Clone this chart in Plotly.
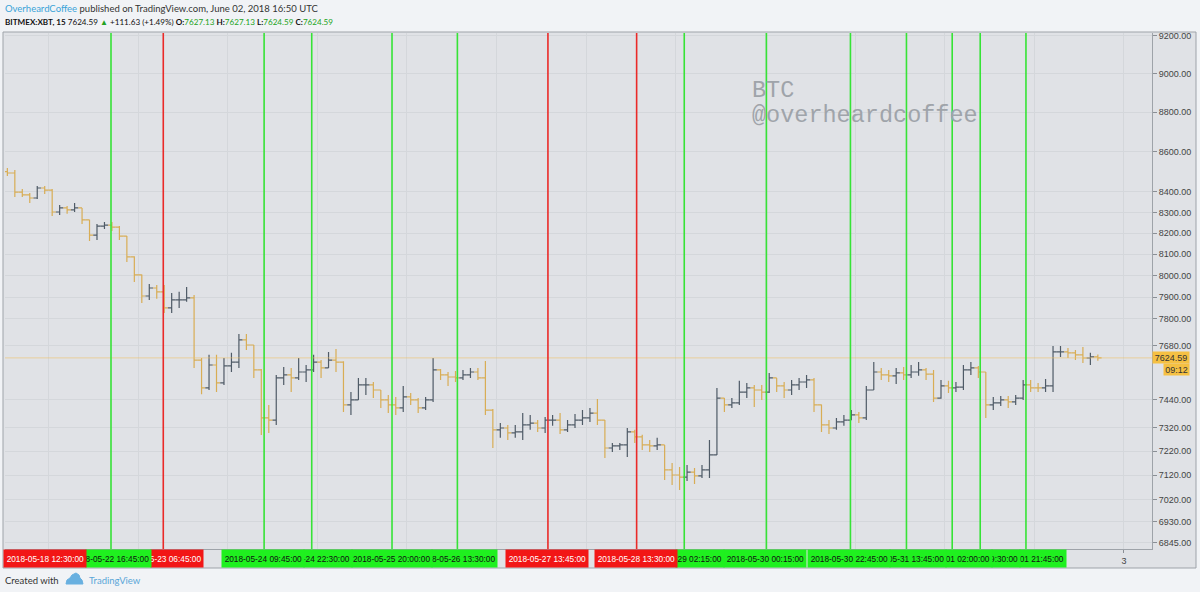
import numpy as np
import pandas as pd
import plotly.graph_objects as go

# ---------------- data (2-hour bars) ----------------
first_bar_centre = "2018-05-21 13:00"
first_open = 8500.0

close = [8493, 8399, 8385, 8370, 8419, 8409, 8302, 8322, 8312, 8322,
         8264, 8191, 8234, 8239, 8229, 8186, 8087, 8003, 7905, 7942,
         7924, 7850, 7887, 7887, 7896, 7615, 7492, 7593, 7514, 7589,
         7606, 7705, 7682, 7571, 7362, 7353, 7536, 7549, 7536, 7562,
         7571, 7606, 7580, 7615, 7606, 7418, 7440, 7505, 7505, 7483,
         7440, 7418, 7405, 7453, 7440, 7405, 7440, 7571, 7549, 7540,
         7536, 7549, 7562, 7536, 7396, 7311, 7319, 7298, 7302, 7332,
         7340, 7319, 7353, 7353, 7311, 7332, 7353, 7362, 7383, 7353,
         7234, 7243, 7247, 7302, 7281, 7247, 7243, 7247, 7142, 7121,
         7112, 7133, 7117, 7142, 7205, 7448, 7418, 7427, 7474, 7492,
         7483, 7474, 7536, 7501, 7483, 7505, 7518, 7527, 7418, 7332,
         7319, 7345, 7353, 7375, 7362, 7483, 7562, 7549, 7545, 7558,
         7549, 7562, 7571, 7553, 7448, 7501, 7492, 7496, 7571, 7580,
         7562, 7418, 7427, 7440, 7431, 7448, 7505, 7492, 7492, 7501,
         7651, 7651, 7647, 7638, 7624, 7629, 7624.59]

high = [8518, 8508, 8414, 8394, 8429, 8429, 8414, 8336, 8331, 8346,
        8322, 8264, 8244, 8254, 8254, 8234, 8186, 8090, 8005, 7961,
        7956, 7956, 7919, 7924, 7947, 7910, 7624, 7638, 7638, 7624,
        7647, 7732, 7732, 7682, 7575, 7418, 7549, 7584, 7580, 7624,
        7593, 7638, 7615, 7651, 7664, 7610, 7474, 7536, 7536, 7518,
        7483, 7461, 7453, 7501, 7470, 7448, 7453, 7624, 7575, 7562,
        7566, 7571, 7580, 7580, 7611, 7400, 7340, 7332, 7332, 7383,
        7375, 7353, 7366, 7375, 7383, 7353, 7379, 7396, 7405, 7444,
        7353, 7255, 7255, 7319, 7311, 7290, 7268, 7277, 7247, 7171,
        7154, 7163, 7150, 7163, 7268, 7492, 7448, 7448, 7523, 7514,
        7505, 7505, 7558, 7536, 7518, 7527, 7536, 7549, 7536, 7420,
        7353, 7362, 7375, 7396, 7388, 7501, 7606, 7580, 7571, 7580,
        7584, 7593, 7606, 7580, 7571, 7527, 7523, 7518, 7593, 7606,
        7589, 7562, 7453, 7457, 7457, 7461, 7527, 7527, 7514, 7531,
        7678, 7678, 7669, 7660, 7673, 7647, 7640]

low = [8478, 8375, 8375, 8346, 8365, 8390, 8283, 8288, 8293, 8302,
       8244, 8163, 8168, 8220, 8210, 8168, 8063, 7970, 7873, 7887,
       7892, 7827, 7827, 7850, 7878, 7580, 7465, 7483, 7474, 7505,
       7562, 7580, 7660, 7536, 7289, 7298, 7332, 7505, 7474, 7527,
       7518, 7562, 7536, 7580, 7562, 7388, 7375, 7440, 7461, 7448,
       7405, 7383, 7375, 7388, 7418, 7383, 7396, 7431, 7527, 7501,
       7518, 7527, 7536, 7527, 7375, 7234, 7277, 7268, 7277, 7268,
       7311, 7302, 7298, 7328, 7293, 7302, 7319, 7332, 7345, 7332,
       7192, 7217, 7226, 7196, 7255, 7226, 7217, 7226, 7100, 7080,
       7059, 7096, 7084, 7108, 7108, 7205, 7388, 7405, 7418, 7448,
       7409, 7440, 7470, 7474, 7448, 7461, 7483, 7492, 7388, 7302,
       7293, 7311, 7328, 7353, 7340, 7353, 7483, 7527, 7518, 7509,
       7527, 7536, 7545, 7527, 7431, 7445, 7470, 7474, 7483, 7549,
       7536, 7362, 7396, 7414, 7405, 7418, 7440, 7474, 7474, 7474,
       7474, 7629, 7624, 7615, 7602, 7593, 7612]

green_times = ["2018-05-22 16:45", "2018-05-24 09:45", "2018-05-24 22:30",
               "2018-05-25 20:00", "2018-05-26 13:30", "2018-05-29 02:15",
               "2018-05-30 00:15", "2018-05-30 22:45", "2018-05-31 13:45",
               "2018-06-01 02:00", "2018-06-01 09:30", "2018-06-01 21:45"]
red_times = ["2018-05-18 12:30", "2018-05-23 06:45",
             "2018-05-27 13:45", "2018-05-28 13:30"]

price_ticks = [9200, 9000, 8800, 8600, 8400, 8300, 8200, 8100, 8000, 7900,
               7800, 7680, 7440, 7320, 7220, 7120, 7020, 6930, 6845]
day_ticks = ["2018-05-22", "2018-05-23", "2018-05-24", "2018-05-25",
             "2018-05-26", "2018-05-27", "2018-05-28", "2018-05-29",
             "2018-05-30", "2018-05-31", "2018-06-01", "2018-06-02",
             "2018-06-03"]
# day labels hidden beneath the marker tags, only the last one shows
day_labels = ["", "", "", "", "", "", "", "", "", "", "", "", "3"]

last_price = 7624.59
countdown = "09:12"
x_range = ["2018-05-21 12:22", "2018-06-03 07:30"]
price_range = [6820, 9216]

# ---------------- styling ----------------
W, H = 1200, 592
ML, MR, MT, MB = 5, 48, 33, 43
PW, PH = W - ML - MR, H - MT - MB
BG_OUT = "#f1f3f6"
BG_CHART = "#e0e2e6"
GRID = "#d4d7db"
BORDER = "#9ea3a9"
UP = "#4f5b67"
DOWN = "#d8ad55"
GREEN = "#36e336"
RED = "#ea2a28"
LBL_GREEN = "#1ff01f"
LBL_RED = "#f21616"
LBL_W = 82
LBL_FONT = 8.3


def px_x(p):
    return (p - ML) / PW


def px_y(p):
    return (H - MB - p) / PH


x_start = pd.Timestamp(x_range[0])
span_per_px = (pd.Timestamp(x_range[1]) - x_start) / PW


def t_to_px(t):
    return ML + (t - x_start) / span_per_px


def px_to_t(p):
    return x_start + (p - ML) * span_per_px


CHAR_W = {"-": 0.333, ":": 0.278, " ": 0.278}


def text_w(s):
    return sum(CHAR_W.get(ch, 0.556) for ch in s) * LBL_FONT


times = pd.date_range(first_bar_centre, periods=len(close), freq="2h")
opens = [first_open] + close[:-1]

fig = go.Figure()
fig.add_trace(go.Ohlc(
    x=times, open=opens, high=high, low=low, close=close,
    increasing=dict(line=dict(color=UP, width=1.2)),
    decreasing=dict(line=dict(color=DOWN, width=1.2)),
    tickwidth=0.5, showlegend=False, hoverinfo="skip"))

# last price line
fig.add_trace(go.Scatter(
    x=x_range, y=[last_price, last_price], mode="lines",
    line=dict(color="#f0c060", width=1), opacity=0.55,
    showlegend=False, hoverinfo="skip"))

shapes = []
shapes.append(dict(type="rect", xref="paper", yref="paper",
                   x0=px_x(3), x1=px_x(1196), y0=px_y(568), y1=px_y(32),
                   fillcolor=BG_CHART, line=dict(color=BORDER, width=1),
                   layer="below"))
for t in green_times:
    shapes.append(dict(type="line", xref="x", yref="paper", x0=t, x1=t,
                       y0=0, y1=1, line=dict(color=GREEN, width=1.6)))
for t in red_times:
    shapes.append(dict(type="line", xref="x", yref="paper", x0=t, x1=t,
                       y0=0, y1=1, line=dict(color=RED, width=1.6)))

# TradingView logo (decorative)
logo_pts = [(66, 584), (67, 580), (70, 578), (72, 575), (76, 573),
            (79, 575), (80, 578), (82, 580), (83, 584)]
path = "M " + " L ".join(f"{px_x(a):.5f},{px_y(b):.5f}" for a, b in logo_pts) + " Z"
shapes.append(dict(type="path", xref="paper", yref="paper", path=path,
                   fillcolor="#68b0e0", line=dict(color="#68b0e0", width=1)))

# marker time tags: earlier tags lie on top of later ones, so a later tag
# only shows the part that sticks out to the right of the earlier tags.
tag_annotations = []
markers = sorted([(pd.Timestamp(t), "g") for t in green_times] +
                 [(pd.Timestamp(t), "r") for t in red_times])
covered_right = -1e9
for t, c in markers:
    cpx = t_to_px(t)
    left, right = cpx - LBL_W / 2, cpx + LBL_W / 2
    if left < ML:
        left, right = ML, ML + LBL_W
    vis_left = max(left, covered_right)
    covered_right = max(covered_right, right)
    vis_w = right - vis_left
    if vis_w < 4:
        continue
    full = t.strftime("%Y-%m-%d %H:%M:%S")
    pad = (LBL_W - text_w(full)) / 2
    s = full
    while s and text_w(s) > vis_w - pad + 2.5:
        s = s[1:]
    tag_annotations.append(dict(
        x=px_to_t(right), xref="x", y=0, yref="paper",
        xanchor="right", yanchor="top",
        text=s + "\u00a0", align="right", showarrow=False,
        bgcolor=LBL_GREEN if c == "g" else LBL_RED,
        width=vis_w, height=17, borderpad=0,
        font=dict(family="Liberation Sans, Arial", size=LBL_FONT,
                  color="#111111" if c == "g" else "#ffffff")))
annotations = list(reversed(tag_annotations))  # earliest drawn last (on top)

# last price / countdown tags on the price scale
annotations.append(dict(x=1, xref="paper", y=np.log10(last_price), yref="y",
                        xanchor="left", yanchor="middle", showarrow=False,
                        text=f"{last_price:.2f}", bgcolor="#f5c043",
                        width=36, height=11, borderpad=0,
                        font=dict(family="Liberation Sans, Arial", size=9,
                                  color="#333333")))
annotations.append(dict(x=1, xref="paper", y=np.log10(last_price), yref="y",
                        xanchor="left", yanchor="middle", showarrow=False,
                        xshift=11, yshift=-12,
                        text=countdown, bgcolor="#f5c043",
                        width=25, height=11, borderpad=0,
                        font=dict(family="Liberation Sans, Arial", size=9,
                                  color="#333333")))

# header
annotations.append(dict(
    x=0, xref="paper", y=px_y(9), yref="paper", xanchor="left",
    yanchor="middle", showarrow=False, xshift=-2,
    text='<span style="color:#3aa3d8">OverheardCoffee</span> published on '
         'TradingView.com, June 02, 2018 16:50 UTC',
    font=dict(family="Lato", size=9.5, color="#333333")))
annotations.append(dict(
    x=0, xref="paper", y=px_y(22), yref="paper", xanchor="left",
    yanchor="middle", showarrow=False, xshift=-2,
    text='<b>BITMEX:XBT, 15</b> 7624.59 <span style="color:#22a322">▲</span> '
         '+111.63 (+1.49%) <b>O:</b><span style="color:#22a322">7627.13</span> '
         '<b>H:</b><span style="color:#22a322">7627.13</span> '
         '<b>L:</b><span style="color:#22a322">7624.59</span> '
         '<b>C:</b><span style="color:#22a322">7624.59</span>',
    font=dict(family="Lato", size=8.1, color="#111111")))

# footer
annotations.append(dict(
    x=0, xref="paper", y=px_y(580), yref="paper", xanchor="left",
    yanchor="middle", showarrow=False, xshift=-2,
    text="Created with", font=dict(family="Lato", size=9.5, color="#333333")))
annotations.append(dict(
    x=px_x(87), xref="paper", y=px_y(580), yref="paper", xanchor="left",
    yanchor="middle", showarrow=False,
    text="TradingView", font=dict(family="Lato", size=9.5, color="#5aa6d8")))

# watermark
annotations.append(dict(
    x=px_x(750), xref="paper", y=px_y(91), yref="paper", xanchor="left",
    yanchor="middle", showarrow=False, text="BTC",
    font=dict(family="Liberation Mono", size=23.5, color="#9fa4aa")))
annotations.append(dict(
    x=px_x(750), xref="paper", y=px_y(116), yref="paper", xanchor="left",
    yanchor="middle", showarrow=False, text="@overheardcoffee",
    font=dict(family="Liberation Mono", size=23.5, color="#9fa4aa")))

fig.update_layout(
    width=W, height=H, autosize=False,
    margin=dict(l=ML, r=MR, t=MT, b=MB, pad=0, autoexpand=False),
    paper_bgcolor=BG_OUT, plot_bgcolor=BG_CHART,
    shapes=shapes, annotations=annotations,
    xaxis=dict(type="date", range=x_range, rangeslider=dict(visible=False),
               tickvals=day_ticks, ticktext=day_labels, automargin=False,
               showgrid=True, gridcolor=GRID, gridwidth=1,
               ticks="outside", ticklen=3, tickcolor="#8a8f95",
               tickfont=dict(family="Liberation Sans, Arial", size=9,
                             color="#444444"),
               showline=True, linecolor=BORDER, linewidth=1,
               zeroline=False, fixedrange=True),
    yaxis=dict(type="log", side="right", automargin=False,
               range=[np.log10(price_range[0]), np.log10(price_range[1])],
               tickvals=price_ticks,
               ticktext=[f"{v:.2f}" for v in price_ticks],
               showgrid=True, gridcolor=GRID, gridwidth=1,
               ticks="outside", ticklen=4, tickcolor="#8a8f95",
               tickfont=dict(family="Liberation Sans, Arial", size=9,
                             color="#444444"),
               showline=True, linecolor=BORDER, linewidth=1,
               zeroline=False, fixedrange=True),
    hovermode=False,
)

fig.write_html(
    "out.html", config=dict(displayModeBar=False),
    post_script="document.body.style.margin='0px';"
                "document.body.style.overflow='hidden';")
